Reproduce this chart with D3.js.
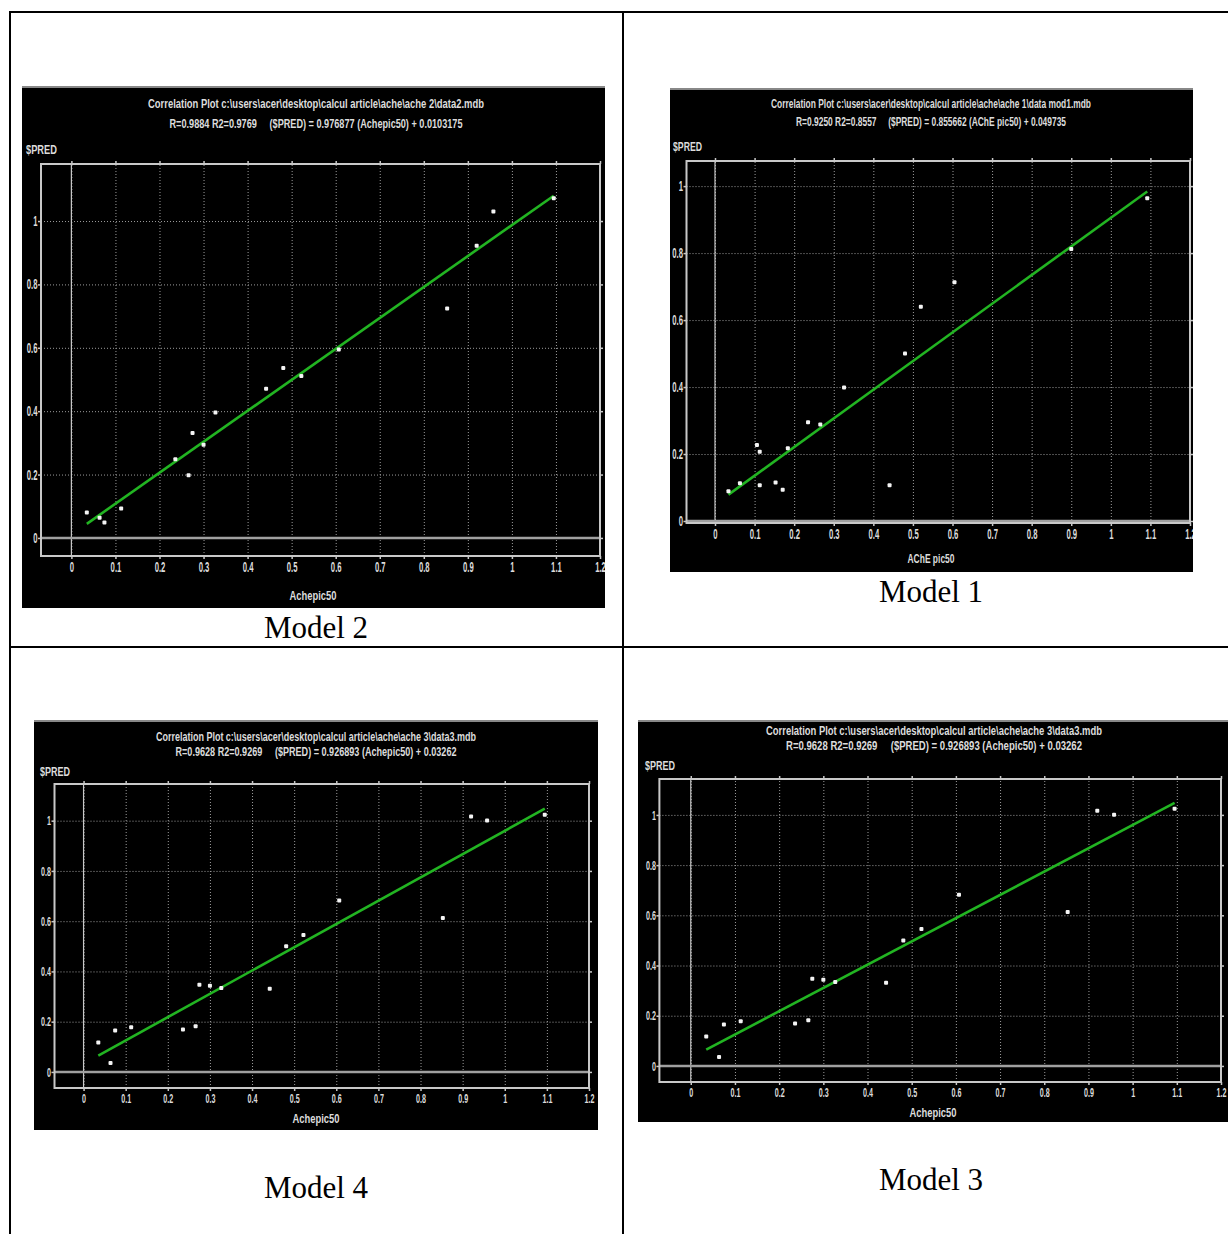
<!DOCTYPE html>
<html>
<head>
  <meta charset="utf-8">
  <title>Correlation plots</title>
  <script src="https://cdn.jsdelivr.net/npm/d3@7"></script>
  <style>
    body { margin: 0; background: #fff; }
    text { font-family: "Liberation Sans", Arial, sans-serif; }
  </style>
</head>
<body>
<script>
  // --- data ---
  let xTickLabels = ['0', '0.1', '0.2', '0.3', '0.4', '0.5', '0.6', '0.7', '0.8', '0.9', '1', '1.1', '1.2'];
  let yTickLabels = ['0', '0.2', '0.4', '0.6', '0.8', '1'];

  // Achepic50 (experimental) used by models 2, 3 and 4
  let achepic50 = [0.035, 0.064, 0.075, 0.113, 0.236, 0.266, 0.275, 0.300, 0.327, 0.442, 0.481, 0.522, 0.607, 0.853, 0.920, 0.958, 1.095];
  let model2Pred = [0.080, 0.064, 0.049, 0.093, 0.248, 0.198, 0.331, 0.294, 0.396, 0.471, 0.536, 0.511, 0.595, 0.724, 0.922, 1.030, 1.072];
  let model34Pred = [0.117, 0.036, 0.165, 0.178, 0.169, 0.182, 0.347, 0.343, 0.334, 0.331, 0.500, 0.545, 0.682, 0.613, 1.017, 1.001, 1.024];

  // AChE pic50 for model 1
  let model1X = [0.034, 0.063, 0.106, 0.113, 0.113, 0.153, 0.171, 0.184, 0.235, 0.266, 0.326, 0.441, 0.480, 0.520, 0.605, 0.900, 1.092];
  let model1Pred = [0.089, 0.113, 0.227, 0.207, 0.107, 0.115, 0.093, 0.217, 0.295, 0.288, 0.399, 0.107, 0.500, 0.640, 0.713, 0.812, 0.964];

  // regression equations: [slope, intercept]
  let fit2 = [0.976877, 0.0103175];
  let fit1 = [0.855662, 0.049735];
  let fit34 = [0.926893, 0.03262];

  let titles2 = ['Correlation Plot c:\\users\\acer\\desktop\\calcul article\\ache\\ache 2\\data2.mdb',
    'R=0.9884 R2=0.9769     ($PRED) = 0.976877 (Achepic50) + 0.0103175'];
  let titles1 = ['Correlation Plot c:\\users\\acer\\desktop\\calcul article\\ache\\ache 1\\data mod1.mdb',
    'R=0.9250 R2=0.8557     ($PRED) = 0.855662 (AChE pic50) + 0.049735'];
  let titles34 = ['Correlation Plot c:\\users\\acer\\desktop\\calcul article\\ache\\ache 3\\data3.mdb',
    'R=0.9628 R2=0.9269     ($PRED) = 0.926893 (Achepic50) + 0.03262'];

  let width = 1228;
  let height = 1234;

  let svg = d3.select('body').append('svg')
    .attr('width', width)
    .attr('height', height);

  // table grid
  svg.append('g').selectAll('line')
    .data([[9, 12, width, 12], [10, 12, 10, height], [623, 12, 623, height], [9, 647, width, 647]])
    .enter().append('line')
    .attr('x1', d => d[0]).attr('y1', d => d[1])
    .attr('x2', d => d[2]).attr('y2', d => d[3])
    .attr('stroke', '#000')
    .attr('stroke-width', 2);

  const narrow = 0.55;
  const xTicks = xTickLabels.map(Number);
  const yTicks = yTickLabels.map(Number);
  const txtColor = '#dcdcdc';

  function drawPanel(p, id, xs, ys, fit, titles, xName, caption) {
    let [bx0, by0, bx1, by1] = p.box;
    let [fx0, fy0, fx1, fy1] = p.frame;
    let g = svg.append('g');

    g.append('clipPath').attr('id', 'clip' + id)
      .append('rect').attr('x', bx0).attr('y', by0).attr('width', bx1 - bx0).attr('height', by1 - by0);

    g.append('rect')
      .attr('x', bx0).attr('y', by0)
      .attr('width', bx1 - bx0).attr('height', by1 - by0)
      .attr('fill', '#000');
    g.append('rect')
      .attr('x', bx0).attr('y', by0)
      .attr('width', bx1 - bx0).attr('height', 2)
      .attr('fill', '#888');

    let inner = g.append('g').attr('clip-path', `url(#clip${id})`);

    let x = d3.scaleLinear().domain(p.xDom).range([fx0, fx1]);
    let y = d3.scaleLinear().domain(p.yDom).range([fy1, fy0]);

    // dotted grid
    let gx = inner.append('g')
      .attr('transform', `translate(0, ${fy1})`)
      .call(d3.axisBottom(x).tickValues(xTicks).tickSize(-(fy1 - fy0)).tickFormat(''));
    let gy = inner.append('g')
      .attr('transform', `translate(${fx0}, 0)`)
      .call(d3.axisLeft(y).tickValues(yTicks).tickSize(-(fx1 - fx0)).tickFormat(''));
    [gx, gy].forEach(a => {
      a.select('.domain').remove();
      a.selectAll('line').attr('stroke', '#9c9c9c').attr('stroke-dasharray', '1,2');
    });

    // zero lines
    inner.append('line')
      .attr('x1', x(0)).attr('x2', x(0))
      .attr('y1', fy0).attr('y2', fy1)
      .attr('stroke', '#c8c8c8').attr('stroke-width', 1.2);
    inner.append('line')
      .attr('x1', fx0).attr('x2', fx1)
      .attr('y1', y(0)).attr('y2', y(0))
      .attr('stroke', '#a0a0a0').attr('stroke-width', 2.5);

    // frame
    inner.append('rect')
      .attr('x', fx0).attr('y', fy0)
      .attr('width', fx1 - fx0).attr('height', fy1 - fy0)
      .attr('fill', 'none')
      .attr('stroke', '#c8c8c8')
      .attr('stroke-width', 2);

    // tick marks and labels
    let fs = p.fs;
    let axB = inner.append('g')
      .attr('transform', `translate(0, ${fy1})`)
      .call(d3.axisBottom(x).tickValues(xTicks).tickSize(3).tickPadding(3).tickFormat((d, i) => xTickLabels[i]));
    let axT = inner.append('g')
      .attr('transform', `translate(0, ${fy0})`)
      .call(d3.axisTop(x).tickValues(xTicks).tickSize(3).tickFormat(''));
    let axL = inner.append('g')
      .attr('transform', `translate(${fx0}, 0)`)
      .call(d3.axisLeft(y).tickValues(yTicks).tickSize(3).tickFormat((d, i) => yTickLabels[i]));
    let axR = inner.append('g')
      .attr('transform', `translate(${fx1}, 0)`)
      .call(d3.axisRight(y).tickValues(yTicks).tickSize(3).tickFormat(''));
    [axB, axT, axL, axR].forEach(a => {
      a.select('.domain').remove();
      a.selectAll('line').attr('stroke', '#c8c8c8').attr('stroke-width', 1.5);
      a.selectAll('text')
        .attr('fill', txtColor)
        .style('font-size', fs + 'px')
        .style('font-weight', 'bold')
        .style('font-family', '"Liberation Sans", Arial, sans-serif');
    });
    axB.selectAll('text').attr('transform', `scale(${narrow},1)`);
    axL.selectAll('text')
      .attr('x', -3.5 / narrow)
      .attr('transform', `scale(${narrow},1)`);

    // regression line
    let ext = d3.extent(xs);
    let line = d3.line().x(d => x(d)).y(d => y(fit[0] * d + fit[1]));
    inner.append('path')
      .datum(ext)
      .attr('d', line)
      .attr('fill', 'none')
      .attr('stroke', '#22b422')
      .attr('stroke-width', 2.6);

    // points
    inner.append('g').selectAll('rect')
      .data(xs)
      .enter().append('rect')
      .attr('x', d => x(d) - 2)
      .attr('y', (d, i) => y(ys[i]) - 2)
      .attr('width', 4).attr('height', 4)
      .attr('rx', 1)
      .attr('fill', '#f4f4f4');

    // titles (inside the black box, no clipping needed)
    g.selectAll('.ttl')
      .data(titles)
      .enter().append('text')
      .attr('class', 'ttl')
      .attr('x', p.tcx)
      .attr('y', (d, i) => p.ty[i])
      .attr('dy', '0.35em')
      .attr('text-anchor', 'middle')
      .attr('textLength', (d, i) => p.tw[i])
      .attr('lengthAdjust', 'spacingAndGlyphs')
      .attr('fill', txtColor)
      .style('white-space', 'pre')
      .style('font-weight', 'bold')
      .style('font-size', (fs - 1) + 'px')
      .text(d => d);

    g.append('text')
      .attr('x', p.pred[0]).attr('y', p.pred[1])
      .attr('dy', '0.35em')
      .attr('textLength', p.pred[2])
      .attr('lengthAdjust', 'spacingAndGlyphs')
      .attr('fill', txtColor)
      .style('font-weight', 'bold')
      .style('font-size', (fs - 1) + 'px')
      .text('$PRED');

    g.append('text')
      .attr('x', p.xlab[0]).attr('y', p.xlab[1])
      .attr('dy', '0.35em')
      .attr('text-anchor', 'middle')
      .attr('textLength', p.xlab[2])
      .attr('lengthAdjust', 'spacingAndGlyphs')
      .attr('fill', txtColor)
      .style('font-weight', 'bold')
      .style('font-size', (fs - 1) + 'px')
      .text(xName);

    // table caption
    svg.append('text')
      .attr('x', p.cap[0]).attr('y', p.cap[1])
      .attr('text-anchor', 'middle')
      .style('font-family', '"Liberation Serif", "Times New Roman", serif')
      .style('font-size', '31px')
      .attr('fill', '#000')
      .text(caption);
  }

  drawPanel({
    box: [22, 86, 605, 608], frame: [41, 164, 600, 556],
    xDom: [-0.069, 1.2], yDom: [-0.057, 1.18],
    tcx: 316, ty: [103, 123], tw: [336, 293],
    pred: [26, 149, 31], xlab: [313, 595, 47], cap: [316, 638], fs: 14
  }, 'm2', achepic50, model2Pred, fit2, titles2, 'Achepic50', 'Model 2');

  drawPanel({
    box: [670, 88, 1193, 572], frame: [686.5, 161, 1190, 523],
    xDom: [-0.072, 1.2], yDom: [-0.006, 1.075],
    tcx: 931, ty: [103, 121], tw: [320, 270],
    pred: [673, 146, 29], xlab: [931, 558, 47], cap: [931, 602], fs: 14
  }, 'm1', model1X, model1Pred, fit1, titles1, 'AChE pic50', 'Model 1');

  drawPanel({
    box: [34, 720, 598, 1130], frame: [54.5, 784, 589, 1088],
    xDom: [-0.069, 1.2], yDom: [-0.064, 1.146],
    tcx: 316, ty: [737, 752], tw: [320, 281],
    pred: [40, 772, 30], xlab: [316, 1119, 47], cap: [316, 1198], fs: 13
  }, 'm4', achepic50, model34Pred, fit34, titles34, 'Achepic50', 'Model 4');

  drawPanel({
    box: [638, 720, 1228, 1122], frame: [659.4, 779, 1221, 1082],
    xDom: [-0.071, 1.2], yDom: [-0.064, 1.143],
    tcx: 934, ty: [731, 746], tw: [336, 296],
    pred: [645, 766, 30], xlab: [933, 1113, 47], cap: [931, 1190], fs: 13
  }, 'm3', achepic50, model34Pred, fit34, titles34, 'Achepic50', 'Model 3');
</script>
</body>
</html>
